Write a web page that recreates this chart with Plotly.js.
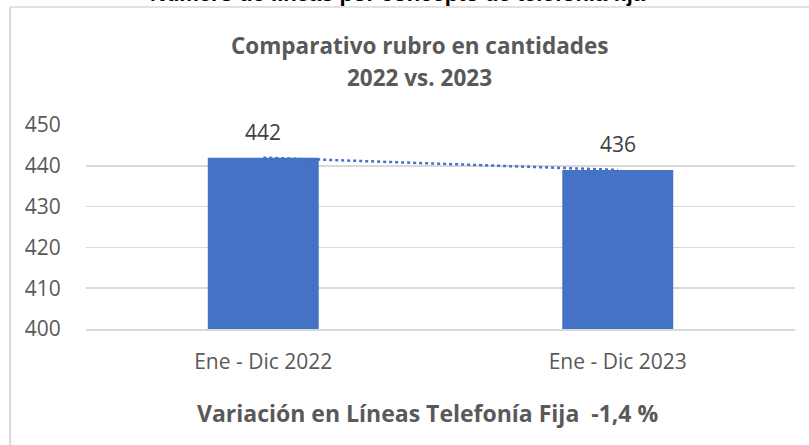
<!DOCTYPE html>
<html>
<head>
<meta charset="utf-8">
<script src="https://cdn.plot.ly/plotly-3.0.1.min.js"></script>
<style>
  html, body { margin: 0; padding: 0; background: #fff; }
  #chart { width: 809px; height: 445px; }
</style>
</head>
<body>
<div id="chart"></div>
<script>
// valores
const categorias = ["Ene - Dic 2022", "Ene - Dic 2023"];
const lineas = [442, 439];
const etiquetas = ["442", "436"];
const tituloSup = "Número de líneas por concepto de telefonía fija";
const subtitulo = ["Comparativo rubro en cantidades", "2022 vs. 2023"];
const pie = "Variación en Líneas Telefonía Fija&nbsp; -1,4 %";

const AZUL = "#4472C4";
const GRIS = "#595959";
const REJILLA = "#D9D9D9";

const barras = {
  x: categorias,
  y: lineas,
  type: "bar",
  marker: { color: AZUL },
  hoverinfo: "skip",
};

const tendencia = {
  x: categorias,
  y: lineas,
  type: "scatter",
  mode: "lines",
  line: { color: AZUL, width: 2.5, dash: "dot" },
  hoverinfo: "skip",
};

const anotaciones = [
  { text: "<b>" + tituloSup + "</b>", x: 0.440, y: 1.574, yanchor: "bottom",
    font: { family: "Liberation Sans, Arial", size: 22, color: "#000" } },
  { text: "<b>" + subtitulo[0] + "</b>", x: 0.471, y: 1.39, yanchor: "middle",
    font: { family: "Open Sans", size: 22.5, color: GRIS } },
  { text: "<b>" + subtitulo[1] + "</b>", x: 0.471, y: 1.235, yanchor: "middle",
    font: { family: "Open Sans", size: 22.5, color: GRIS } },
  { text: "<b>" + pie + "</b>", x: 0.481, y: -0.412, yanchor: "middle",
    font: { family: "Open Sans", size: 23, color: GRIS } },
].map((a) => Object.assign({ xref: "paper", yref: "paper", xanchor: "center", showarrow: false }, a));

categorias.forEach((c, i) => {
  anotaciones.push({
    x: c, y: lineas[i], xref: "x", yref: "y",
    text: etiquetas[i], showarrow: false,
    yanchor: "bottom", yshift: 10,
    font: { family: "Open Sans", size: 21, color: "#404040" },
  });
});

const marco = [
  { type: "line", xref: "paper", yref: "paper", x0: -0.107, x1: 1.03, y0: 1.578, y1: 1.578,
    line: { color: REJILLA, width: 1.5 } },
  { type: "line", xref: "paper", yref: "paper", x0: -0.107, x1: -0.107, y0: 1.578, y1: -0.6,
    line: { color: REJILLA, width: 2 } },
];

Plotly.newPlot(
  "chart",
  [barras, tendencia],
  {
    width: 809,
    height: 445,
    margin: { l: 86, r: 14, t: 125, b: 116 },
    paper_bgcolor: "#fff",
    plot_bgcolor: "#fff",
    showlegend: false,
    bargap: 0.687,
    font: { family: "Open Sans", color: GRIS },
    xaxis: {
      type: "category",
      range: [-0.5, 1.5],
      showgrid: false,
      showline: true,
      linecolor: REJILLA,
      linewidth: 1.5,
      ticks: "outside",
      ticklen: 13,
      tickcolor: "rgba(0,0,0,0)",
      tickfont: { family: "Open Sans", size: 21, color: GRIS },
      fixedrange: true,
    },
    yaxis: {
      range: [400, 450],
      dtick: 10,
      showgrid: true,
      gridcolor: REJILLA,
      gridwidth: 1.5,
      zeroline: false,
      ticks: "outside",
      ticklen: 20,
      tickcolor: "rgba(0,0,0,0)",
      tickfont: { family: "Open Sans", size: 21, color: GRIS },
      fixedrange: true,
    },
    annotations: anotaciones,
    shapes: marco,
  },
  { displayModeBar: false, staticPlot: true }
);
</script>
</body>
</html>
